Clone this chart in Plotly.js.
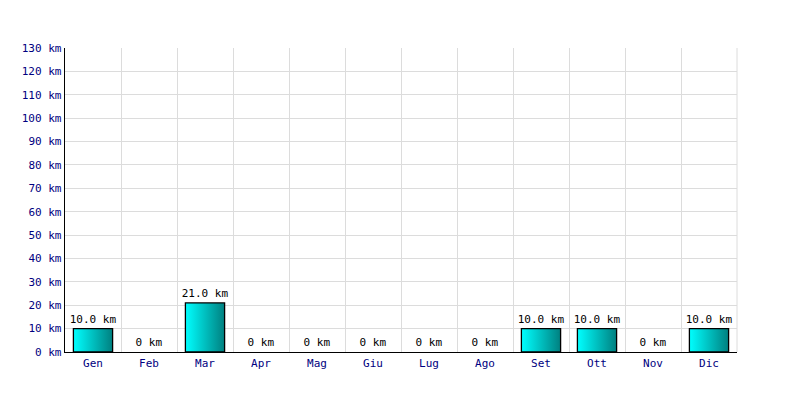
<!DOCTYPE html>
<html><head><meta charset="utf-8">
<script src="https://cdn.plot.ly/plotly-3.0.1.min.js"></script>
<style>html,body{margin:0;padding:0;background:#fff}#chart{width:800px;height:400px}</style>
</head><body><div id="chart"></div>
<script>
const months = ["Gen","Feb","Mar","Apr","Mag","Giu","Lug","Ago","Set","Ott","Nov","Dic"];
const km = [10,0,21,0,0,0,0,0,10,10,0,10];
const labels = ["10.0 km","0 km","21.0 km","0 km","0 km","0 km","0 km","0 km","10.0 km","10.0 km","0 km","10.0 km"];

const traces = [{
  type: "bar", x: months, y: km, width: 0.7,
  marker: {color: "#00c0c0", line: {width: km.map(v => v > 0 ? 1.3 : 0), color: "#000"}},
  text: labels, textposition: "outside", cliponaxis: false, constraintext: "none",
  textfont: {family: "DejaVu Sans Mono", size: 11, color: "#000"},
  showlegend: false
}];

const layout = {
  width: 800, height: 400,
  margin: {l: 65, r: 63, t: 48, b: 48},
  paper_bgcolor: "#fff", plot_bgcolor: "#fff",
  font: {family: "DejaVu Sans Mono", size: 11, color: "#000080"},
  xaxis: {
    type: "category", tickson: "boundaries", showgrid: true, gridcolor: "#dcdcdc", gridwidth: 1,
    showline: true, linecolor: "#000", linewidth: 1.3, ticks: "", zeroline: false,
    tickfont: {family: "DejaVu Sans Mono", size: 11, color: "#000080"},
    range: [-0.5, 11.5]
  },
  yaxis: {
    range: [0, 130], dtick: 10, tick0: 0, ticksuffix: " km",
    showgrid: true, gridcolor: "#dcdcdc", gridwidth: 1,
    showline: true, linecolor: "#000", linewidth: 1.3, ticks: "", zeroline: false,
    tickfont: {family: "DejaVu Sans Mono", size: 11, color: "#000080"}
  },
  shapes: [
    {type: "line", xref: "paper", yref: "paper", x0: 1, x1: 1, y0: 0, y1: 1, line: {color: "#dcdcdc", width: 1}}
  ]
};
Plotly.newPlot("chart", traces, layout, {staticPlot: true}).then(gd => {
  const svg = gd.querySelector("svg.main-svg");
  const ns = "http://www.w3.org/2000/svg";
  let defs = svg.querySelector("defs");
  const grad = document.createElementNS(ns, "linearGradient");
  grad.setAttribute("id", "barGrad");
  grad.setAttribute("x1", "0"); grad.setAttribute("y1", "0");
  grad.setAttribute("x2", "1"); grad.setAttribute("y2", "0");
  [["0", "#00ffff"], ["1", "#008080"]].forEach(([o, c]) => {
    const s = document.createElementNS(ns, "stop");
    s.setAttribute("offset", o); s.setAttribute("stop-color", c);
    grad.appendChild(s);
  });
  defs.appendChild(grad);
  gd.querySelectorAll(".bars .point path").forEach(p => { p.style.fill = "url(#barGrad)"; });
});
</script></body></html>
